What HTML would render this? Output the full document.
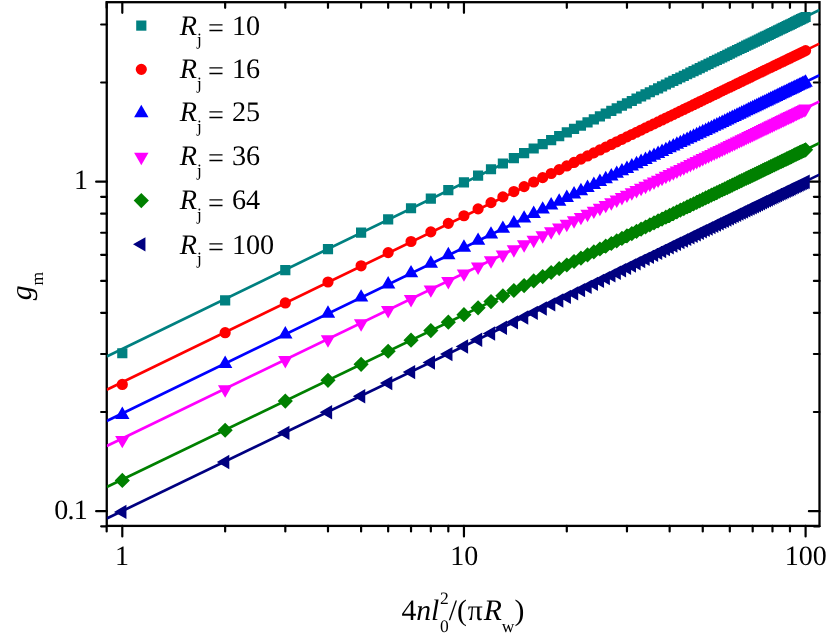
<!DOCTYPE html>
<html><head><meta charset="utf-8"><title>chart</title>
<style>
html,body{margin:0;padding:0;background:#fff;}
body{width:830px;height:639px;overflow:hidden;}
svg{display:block;will-change:transform;}
text{text-rendering:geometricPrecision;}
text{font-family:"Liberation Serif",serif;fill:#000;}
.i{font-style:italic;}
</style></head><body>
<svg width="830" height="639" viewBox="0 0 830 639">
<rect width="830" height="639" fill="#fff"/>
<defs><clipPath id="c"><rect x="106.75" y="2.2" width="712.75" height="523.7"/></clipPath></defs>

<path d="M106.67 525.9v5.6M106.67 2.2v5.6M122.3 525.9v10.6M122.3 2.2v10.6M225.15 525.9v5.6M225.15 2.2v5.6M285.31 525.9v5.6M285.31 2.2v5.6M327.99 525.9v5.6M327.99 2.2v5.6M361.1 525.9v5.6M361.1 2.2v5.6M388.16 525.9v5.6M388.16 2.2v5.6M411.03 525.9v5.6M411.03 2.2v5.6M430.84 525.9v5.6M430.84 2.2v5.6M448.32 525.9v5.6M448.32 2.2v5.6M463.95 525.9v10.6M463.95 2.2v10.6M566.8 525.9v5.6M566.8 2.2v5.6M626.96 525.9v5.6M626.96 2.2v5.6M669.64 525.9v5.6M669.64 2.2v5.6M702.75 525.9v5.6M702.75 2.2v5.6M729.81 525.9v5.6M729.81 2.2v5.6M752.68 525.9v5.6M752.68 2.2v5.6M772.49 525.9v5.6M772.49 2.2v5.6M789.97 525.9v5.6M789.97 2.2v5.6M805.6 525.9v10.6M805.6 2.2v10.6M106.75 526.28h-5.6M819.5 526.28h-5.6M106.75 511.2h-10.6M819.5 511.2h-10.6M106.75 412.01h-5.6M819.5 412.01h-5.6M106.75 353.99h-5.6M819.5 353.99h-5.6M106.75 312.82h-5.6M819.5 312.82h-5.6M106.75 280.89h-5.6M819.5 280.89h-5.6M106.75 254.8h-5.6M819.5 254.8h-5.6M106.75 232.74h-5.6M819.5 232.74h-5.6M106.75 213.63h-5.6M819.5 213.63h-5.6M106.75 196.78h-5.6M819.5 196.78h-5.6M106.75 181.7h-10.6M819.5 181.7h-10.6M106.75 82.51h-5.6M819.5 82.51h-5.6M106.75 24.49h-5.6M819.5 24.49h-5.6" stroke="#000" stroke-width="2.2" stroke-linecap="round" fill="none"/>
<rect x="106.75" y="2.2" width="712.75" height="523.7" fill="none" stroke="#000" stroke-width="2.3"/>
<g clip-path="url(#c)">
<path d="M106.75 356.5L819.5 10" stroke="#008080" stroke-width="2.7" fill="none"/>
<path d="M106.75 389.8L819.5 43.6" stroke="#ff0000" stroke-width="2.7" fill="none"/>
<path d="M106.75 421L819.5 75.2" stroke="#0000ff" stroke-width="2.7" fill="none"/>
<path d="M106.75 446L819.5 101.5" stroke="#ff00ff" stroke-width="2.7" fill="none"/>
<path d="M106.75 487L819.5 143" stroke="#008000" stroke-width="2.7" fill="none"/>
<path d="M106.75 518.5L819.5 174.6" stroke="#000080" stroke-width="2.7" fill="none"/>
</g>
<path d="M117.2 348.17h10.2v10.2h-10.2zM220.05 295.25h10.2v10.2h-10.2zM280.21 265.09h10.2v10.2h-10.2zM322.89 243.93h10.2v10.2h-10.2zM356 227.61h10.2v10.2h-10.2zM383.06 214.33h10.2v10.2h-10.2zM405.93 203.14h10.2v10.2h-10.2zM425.74 193.45h10.2v10.2h-10.2zM443.22 184.93h10.2v10.2h-10.2zM458.85 177.31h10.2v10.2h-10.2zM472.99 170.43h10.2v10.2h-10.2zM485.9 164.15h10.2v10.2h-10.2zM497.78 158.38h10.2v10.2h-10.2zM508.77 153.03h10.2v10.2h-10.2zM519.01 148.06h10.2v10.2h-10.2zM528.59 143.42h10.2v10.2h-10.2zM537.58 139.05h10.2v10.2h-10.2zM546.06 134.94h10.2v10.2h-10.2zM554.09 131.05h10.2v10.2h-10.2zM561.7 127.36h10.2v10.2h-10.2zM568.94 123.85h10.2v10.2h-10.2zM575.84 120.51h10.2v10.2h-10.2zM582.43 117.32h10.2v10.2h-10.2zM588.75 114.26h10.2v10.2h-10.2zM594.81 111.33h10.2v10.2h-10.2zM600.63 108.51h10.2v10.2h-10.2zM606.23 105.8h10.2v10.2h-10.2zM611.62 103.19h10.2v10.2h-10.2zM616.83 100.67h10.2v10.2h-10.2zM621.86 98.23h10.2v10.2h-10.2zM626.72 95.88h10.2v10.2h-10.2zM631.43 93.6h10.2v10.2h-10.2zM636 91.39h10.2v10.2h-10.2zM640.43 89.25h10.2v10.2h-10.2zM644.73 87.17h10.2v10.2h-10.2zM648.91 85.15h10.2v10.2h-10.2zM652.98 83.18h10.2v10.2h-10.2zM656.93 81.27h10.2v10.2h-10.2zM660.79 79.41h10.2v10.2h-10.2zM664.54 77.59h10.2v10.2h-10.2zM668.21 75.82h10.2v10.2h-10.2zM671.78 74.09h10.2v10.2h-10.2zM675.27 72.4h10.2v10.2h-10.2zM678.69 70.75h10.2v10.2h-10.2zM682.02 69.14h10.2v10.2h-10.2zM685.28 67.57h10.2v10.2h-10.2zM688.47 66.02h10.2v10.2h-10.2zM691.6 64.51h10.2v10.2h-10.2zM694.66 63.04h10.2v10.2h-10.2zM697.65 61.59h10.2v10.2h-10.2zM700.59 60.17h10.2v10.2h-10.2zM703.47 58.78h10.2v10.2h-10.2zM706.3 57.41h10.2v10.2h-10.2zM709.07 56.07h10.2v10.2h-10.2zM711.79 54.76h10.2v10.2h-10.2zM714.47 53.46h10.2v10.2h-10.2zM717.09 52.2h10.2v10.2h-10.2zM719.68 50.95h10.2v10.2h-10.2zM722.21 49.72h10.2v10.2h-10.2zM724.71 48.52h10.2v10.2h-10.2zM727.16 47.33h10.2v10.2h-10.2zM729.57 46.17h10.2v10.2h-10.2zM731.94 45.02h10.2v10.2h-10.2zM734.28 43.89h10.2v10.2h-10.2zM736.58 42.78h10.2v10.2h-10.2zM738.85 41.69h10.2v10.2h-10.2zM741.08 40.61h10.2v10.2h-10.2zM743.28 39.55h10.2v10.2h-10.2zM745.44 38.5h10.2v10.2h-10.2zM747.58 37.47h10.2v10.2h-10.2zM749.68 36.46h10.2v10.2h-10.2zM751.76 35.45h10.2v10.2h-10.2zM753.8 34.47h10.2v10.2h-10.2zM755.82 33.49h10.2v10.2h-10.2zM757.81 32.53h10.2v10.2h-10.2zM759.78 31.58h10.2v10.2h-10.2zM761.72 30.64h10.2v10.2h-10.2zM763.63 29.72h10.2v10.2h-10.2zM765.52 28.81h10.2v10.2h-10.2zM767.39 27.91h10.2v10.2h-10.2zM769.23 27.02h10.2v10.2h-10.2zM771.05 26.14h10.2v10.2h-10.2zM772.85 25.27h10.2v10.2h-10.2zM774.63 24.41h10.2v10.2h-10.2zM776.39 23.56h10.2v10.2h-10.2zM778.12 22.72h10.2v10.2h-10.2zM779.84 21.9h10.2v10.2h-10.2zM781.53 21.08h10.2v10.2h-10.2zM783.21 20.27h10.2v10.2h-10.2zM784.87 19.47h10.2v10.2h-10.2zM786.51 18.68h10.2v10.2h-10.2zM788.13 17.89h10.2v10.2h-10.2zM789.73 17.12h10.2v10.2h-10.2zM791.32 16.35h10.2v10.2h-10.2zM792.89 15.6h10.2v10.2h-10.2zM794.44 14.85h10.2v10.2h-10.2zM795.98 14.1h10.2v10.2h-10.2zM797.5 13.37h10.2v10.2h-10.2zM799.01 12.64h10.2v10.2h-10.2zM800.5 11.92h10.2v10.2h-10.2z" fill="#008080"/>
<path d="M116.7 384.42a5.6 5.6 0 1 0 11.2 0a5.6 5.6 0 1 0 -11.2 0zM219.55 332.69a5.6 5.6 0 1 0 11.2 0a5.6 5.6 0 1 0 -11.2 0zM279.71 302.95a5.6 5.6 0 1 0 11.2 0a5.6 5.6 0 1 0 -11.2 0zM322.39 282a5.6 5.6 0 1 0 11.2 0a5.6 5.6 0 1 0 -11.2 0zM355.5 265.81a5.6 5.6 0 1 0 11.2 0a5.6 5.6 0 1 0 -11.2 0zM382.56 252.62a5.6 5.6 0 1 0 11.2 0a5.6 5.6 0 1 0 -11.2 0zM405.43 241.48a5.6 5.6 0 1 0 11.2 0a5.6 5.6 0 1 0 -11.2 0zM425.24 231.85a5.6 5.6 0 1 0 11.2 0a5.6 5.6 0 1 0 -11.2 0zM442.72 223.36a5.6 5.6 0 1 0 11.2 0a5.6 5.6 0 1 0 -11.2 0zM458.35 215.77a5.6 5.6 0 1 0 11.2 0a5.6 5.6 0 1 0 -11.2 0zM472.49 208.91a5.6 5.6 0 1 0 11.2 0a5.6 5.6 0 1 0 -11.2 0zM485.4 202.66a5.6 5.6 0 1 0 11.2 0a5.6 5.6 0 1 0 -11.2 0zM497.28 196.9a5.6 5.6 0 1 0 11.2 0a5.6 5.6 0 1 0 -11.2 0zM508.27 191.57a5.6 5.6 0 1 0 11.2 0a5.6 5.6 0 1 0 -11.2 0zM518.51 186.62a5.6 5.6 0 1 0 11.2 0a5.6 5.6 0 1 0 -11.2 0zM528.09 181.98a5.6 5.6 0 1 0 11.2 0a5.6 5.6 0 1 0 -11.2 0zM537.08 177.62a5.6 5.6 0 1 0 11.2 0a5.6 5.6 0 1 0 -11.2 0zM545.56 173.52a5.6 5.6 0 1 0 11.2 0a5.6 5.6 0 1 0 -11.2 0zM553.59 169.64a5.6 5.6 0 1 0 11.2 0a5.6 5.6 0 1 0 -11.2 0zM561.2 165.96a5.6 5.6 0 1 0 11.2 0a5.6 5.6 0 1 0 -11.2 0zM568.44 162.46a5.6 5.6 0 1 0 11.2 0a5.6 5.6 0 1 0 -11.2 0zM575.34 159.12a5.6 5.6 0 1 0 11.2 0a5.6 5.6 0 1 0 -11.2 0zM581.93 155.93a5.6 5.6 0 1 0 11.2 0a5.6 5.6 0 1 0 -11.2 0zM588.25 152.88a5.6 5.6 0 1 0 11.2 0a5.6 5.6 0 1 0 -11.2 0zM594.31 149.95a5.6 5.6 0 1 0 11.2 0a5.6 5.6 0 1 0 -11.2 0zM600.13 147.13a5.6 5.6 0 1 0 11.2 0a5.6 5.6 0 1 0 -11.2 0zM605.73 144.43a5.6 5.6 0 1 0 11.2 0a5.6 5.6 0 1 0 -11.2 0zM611.12 141.82a5.6 5.6 0 1 0 11.2 0a5.6 5.6 0 1 0 -11.2 0zM616.33 139.3a5.6 5.6 0 1 0 11.2 0a5.6 5.6 0 1 0 -11.2 0zM621.36 136.87a5.6 5.6 0 1 0 11.2 0a5.6 5.6 0 1 0 -11.2 0zM626.22 134.52a5.6 5.6 0 1 0 11.2 0a5.6 5.6 0 1 0 -11.2 0zM630.93 132.24a5.6 5.6 0 1 0 11.2 0a5.6 5.6 0 1 0 -11.2 0zM635.5 130.04a5.6 5.6 0 1 0 11.2 0a5.6 5.6 0 1 0 -11.2 0zM639.93 127.9a5.6 5.6 0 1 0 11.2 0a5.6 5.6 0 1 0 -11.2 0zM644.23 125.82a5.6 5.6 0 1 0 11.2 0a5.6 5.6 0 1 0 -11.2 0zM648.41 123.8a5.6 5.6 0 1 0 11.2 0a5.6 5.6 0 1 0 -11.2 0zM652.48 121.84a5.6 5.6 0 1 0 11.2 0a5.6 5.6 0 1 0 -11.2 0zM656.43 119.93a5.6 5.6 0 1 0 11.2 0a5.6 5.6 0 1 0 -11.2 0zM660.29 118.07a5.6 5.6 0 1 0 11.2 0a5.6 5.6 0 1 0 -11.2 0zM664.04 116.25a5.6 5.6 0 1 0 11.2 0a5.6 5.6 0 1 0 -11.2 0zM667.71 114.48a5.6 5.6 0 1 0 11.2 0a5.6 5.6 0 1 0 -11.2 0zM671.28 112.75a5.6 5.6 0 1 0 11.2 0a5.6 5.6 0 1 0 -11.2 0zM674.77 111.07a5.6 5.6 0 1 0 11.2 0a5.6 5.6 0 1 0 -11.2 0zM678.19 109.42a5.6 5.6 0 1 0 11.2 0a5.6 5.6 0 1 0 -11.2 0zM681.52 107.81a5.6 5.6 0 1 0 11.2 0a5.6 5.6 0 1 0 -11.2 0zM684.78 106.24a5.6 5.6 0 1 0 11.2 0a5.6 5.6 0 1 0 -11.2 0zM687.97 104.7a5.6 5.6 0 1 0 11.2 0a5.6 5.6 0 1 0 -11.2 0zM691.1 103.19a5.6 5.6 0 1 0 11.2 0a5.6 5.6 0 1 0 -11.2 0zM694.16 101.71a5.6 5.6 0 1 0 11.2 0a5.6 5.6 0 1 0 -11.2 0zM697.15 100.26a5.6 5.6 0 1 0 11.2 0a5.6 5.6 0 1 0 -11.2 0zM700.09 98.84a5.6 5.6 0 1 0 11.2 0a5.6 5.6 0 1 0 -11.2 0zM702.97 97.45a5.6 5.6 0 1 0 11.2 0a5.6 5.6 0 1 0 -11.2 0zM705.8 96.09a5.6 5.6 0 1 0 11.2 0a5.6 5.6 0 1 0 -11.2 0zM708.57 94.75a5.6 5.6 0 1 0 11.2 0a5.6 5.6 0 1 0 -11.2 0zM711.29 93.44a5.6 5.6 0 1 0 11.2 0a5.6 5.6 0 1 0 -11.2 0zM713.97 92.14a5.6 5.6 0 1 0 11.2 0a5.6 5.6 0 1 0 -11.2 0zM716.59 90.88a5.6 5.6 0 1 0 11.2 0a5.6 5.6 0 1 0 -11.2 0zM719.18 89.63a5.6 5.6 0 1 0 11.2 0a5.6 5.6 0 1 0 -11.2 0zM721.71 88.41a5.6 5.6 0 1 0 11.2 0a5.6 5.6 0 1 0 -11.2 0zM724.21 87.2a5.6 5.6 0 1 0 11.2 0a5.6 5.6 0 1 0 -11.2 0zM726.66 86.02a5.6 5.6 0 1 0 11.2 0a5.6 5.6 0 1 0 -11.2 0zM729.07 84.85a5.6 5.6 0 1 0 11.2 0a5.6 5.6 0 1 0 -11.2 0zM731.44 83.71a5.6 5.6 0 1 0 11.2 0a5.6 5.6 0 1 0 -11.2 0zM733.78 82.58a5.6 5.6 0 1 0 11.2 0a5.6 5.6 0 1 0 -11.2 0zM736.08 81.47a5.6 5.6 0 1 0 11.2 0a5.6 5.6 0 1 0 -11.2 0zM738.35 80.38a5.6 5.6 0 1 0 11.2 0a5.6 5.6 0 1 0 -11.2 0zM740.58 79.3a5.6 5.6 0 1 0 11.2 0a5.6 5.6 0 1 0 -11.2 0zM742.78 78.24a5.6 5.6 0 1 0 11.2 0a5.6 5.6 0 1 0 -11.2 0zM744.94 77.19a5.6 5.6 0 1 0 11.2 0a5.6 5.6 0 1 0 -11.2 0zM747.08 76.16a5.6 5.6 0 1 0 11.2 0a5.6 5.6 0 1 0 -11.2 0zM749.18 75.15a5.6 5.6 0 1 0 11.2 0a5.6 5.6 0 1 0 -11.2 0zM751.26 74.15a5.6 5.6 0 1 0 11.2 0a5.6 5.6 0 1 0 -11.2 0zM753.3 73.16a5.6 5.6 0 1 0 11.2 0a5.6 5.6 0 1 0 -11.2 0zM755.32 72.18a5.6 5.6 0 1 0 11.2 0a5.6 5.6 0 1 0 -11.2 0zM757.31 71.22a5.6 5.6 0 1 0 11.2 0a5.6 5.6 0 1 0 -11.2 0zM759.28 70.27a5.6 5.6 0 1 0 11.2 0a5.6 5.6 0 1 0 -11.2 0zM761.22 69.34a5.6 5.6 0 1 0 11.2 0a5.6 5.6 0 1 0 -11.2 0zM763.13 68.41a5.6 5.6 0 1 0 11.2 0a5.6 5.6 0 1 0 -11.2 0zM765.02 67.5a5.6 5.6 0 1 0 11.2 0a5.6 5.6 0 1 0 -11.2 0zM766.89 66.6a5.6 5.6 0 1 0 11.2 0a5.6 5.6 0 1 0 -11.2 0zM768.73 65.71a5.6 5.6 0 1 0 11.2 0a5.6 5.6 0 1 0 -11.2 0zM770.55 64.83a5.6 5.6 0 1 0 11.2 0a5.6 5.6 0 1 0 -11.2 0zM772.35 63.96a5.6 5.6 0 1 0 11.2 0a5.6 5.6 0 1 0 -11.2 0zM774.13 63.11a5.6 5.6 0 1 0 11.2 0a5.6 5.6 0 1 0 -11.2 0zM775.89 62.26a5.6 5.6 0 1 0 11.2 0a5.6 5.6 0 1 0 -11.2 0zM777.62 61.42a5.6 5.6 0 1 0 11.2 0a5.6 5.6 0 1 0 -11.2 0zM779.34 60.59a5.6 5.6 0 1 0 11.2 0a5.6 5.6 0 1 0 -11.2 0zM781.03 59.78a5.6 5.6 0 1 0 11.2 0a5.6 5.6 0 1 0 -11.2 0zM782.71 58.97a5.6 5.6 0 1 0 11.2 0a5.6 5.6 0 1 0 -11.2 0zM784.37 58.17a5.6 5.6 0 1 0 11.2 0a5.6 5.6 0 1 0 -11.2 0zM786.01 57.38a5.6 5.6 0 1 0 11.2 0a5.6 5.6 0 1 0 -11.2 0zM787.63 56.59a5.6 5.6 0 1 0 11.2 0a5.6 5.6 0 1 0 -11.2 0zM789.23 55.82a5.6 5.6 0 1 0 11.2 0a5.6 5.6 0 1 0 -11.2 0zM790.82 55.05a5.6 5.6 0 1 0 11.2 0a5.6 5.6 0 1 0 -11.2 0zM792.39 54.3a5.6 5.6 0 1 0 11.2 0a5.6 5.6 0 1 0 -11.2 0zM793.94 53.55a5.6 5.6 0 1 0 11.2 0a5.6 5.6 0 1 0 -11.2 0zM795.48 52.8a5.6 5.6 0 1 0 11.2 0a5.6 5.6 0 1 0 -11.2 0zM797 52.07a5.6 5.6 0 1 0 11.2 0a5.6 5.6 0 1 0 -11.2 0zM798.51 51.34a5.6 5.6 0 1 0 11.2 0a5.6 5.6 0 1 0 -11.2 0zM800 50.62a5.6 5.6 0 1 0 11.2 0a5.6 5.6 0 1 0 -11.2 0z" fill="#ff0000"/>
<path d="M122.3 406.52l7.19 12.45h-14.38zM225.15 355.53l7.19 12.45h-14.38zM285.31 326.05l7.19 12.45h-14.38zM327.99 305.23l7.19 12.45h-14.38zM361.1 289.13l7.19 12.45h-14.38zM388.16 275.99l7.19 12.45h-14.38zM411.03 264.89l7.19 12.45h-14.38zM430.84 255.28l7.19 12.45h-14.38zM448.32 246.82l7.19 12.45h-14.38zM463.95 239.25l7.19 12.45h-14.38zM478.09 232.4l7.19 12.45h-14.38zM491 226.15l7.19 12.45h-14.38zM502.88 220.41l7.19 12.45h-14.38zM513.87 215.09l7.19 12.45h-14.38zM524.11 210.14l7.19 12.45h-14.38zM533.69 205.51l7.19 12.45h-14.38zM542.68 201.16l7.19 12.45h-14.38zM551.16 197.06l7.19 12.45h-14.38zM559.19 193.19l7.19 12.45h-14.38zM566.8 189.51l7.19 12.45h-14.38zM574.04 186.01l7.19 12.45h-14.38zM580.94 182.68l7.19 12.45h-14.38zM587.53 179.49l7.19 12.45h-14.38zM593.85 176.44l7.19 12.45h-14.38zM599.91 173.51l7.19 12.45h-14.38zM605.73 170.7l7.19 12.45h-14.38zM611.33 168l7.19 12.45h-14.38zM616.72 165.39l7.19 12.45h-14.38zM621.93 162.88l7.19 12.45h-14.38zM626.96 160.45l7.19 12.45h-14.38zM631.82 158.1l7.19 12.45h-14.38zM636.53 155.83l7.19 12.45h-14.38zM641.1 153.62l7.19 12.45h-14.38zM645.53 151.48l7.19 12.45h-14.38zM649.83 149.41l7.19 12.45h-14.38zM654.01 147.39l7.19 12.45h-14.38zM658.08 145.43l7.19 12.45h-14.38zM662.03 143.52l7.19 12.45h-14.38zM665.89 141.66l7.19 12.45h-14.38zM669.64 139.84l7.19 12.45h-14.38zM673.31 138.07l7.19 12.45h-14.38zM676.88 136.35l7.19 12.45h-14.38zM680.37 134.66l7.19 12.45h-14.38zM683.79 133.02l7.19 12.45h-14.38zM687.12 131.41l7.19 12.45h-14.38zM690.38 129.83l7.19 12.45h-14.38zM693.57 128.29l7.19 12.45h-14.38zM696.7 126.79l7.19 12.45h-14.38zM699.76 125.31l7.19 12.45h-14.38zM702.75 123.86l7.19 12.45h-14.38zM705.69 122.44l7.19 12.45h-14.38zM708.57 121.05l7.19 12.45h-14.38zM711.4 119.69l7.19 12.45h-14.38zM714.17 118.35l7.19 12.45h-14.38zM716.89 117.04l7.19 12.45h-14.38zM719.57 115.75l7.19 12.45h-14.38zM722.19 114.48l7.19 12.45h-14.38zM724.78 113.24l7.19 12.45h-14.38zM727.31 112.01l7.19 12.45h-14.38zM729.81 110.81l7.19 12.45h-14.38zM732.26 109.62l7.19 12.45h-14.38zM734.67 108.46l7.19 12.45h-14.38zM737.04 107.31l7.19 12.45h-14.38zM739.38 106.19l7.19 12.45h-14.38zM741.68 105.08l7.19 12.45h-14.38zM743.95 103.98l7.19 12.45h-14.38zM746.18 102.91l7.19 12.45h-14.38zM748.38 101.85l7.19 12.45h-14.38zM750.54 100.8l7.19 12.45h-14.38zM752.68 99.77l7.19 12.45h-14.38zM754.78 98.76l7.19 12.45h-14.38zM756.86 97.75l7.19 12.45h-14.38zM758.9 96.77l7.19 12.45h-14.38zM760.92 95.79l7.19 12.45h-14.38zM762.91 94.83l7.19 12.45h-14.38zM764.88 93.88l7.19 12.45h-14.38zM766.82 92.95l7.19 12.45h-14.38zM768.73 92.02l7.19 12.45h-14.38zM770.62 91.11l7.19 12.45h-14.38zM772.49 90.21l7.19 12.45h-14.38zM774.33 89.32l7.19 12.45h-14.38zM776.15 88.44l7.19 12.45h-14.38zM777.95 87.58l7.19 12.45h-14.38zM779.73 86.72l7.19 12.45h-14.38zM781.49 85.87l7.19 12.45h-14.38zM783.22 85.04l7.19 12.45h-14.38zM784.94 84.21l7.19 12.45h-14.38zM786.63 83.39l7.19 12.45h-14.38zM788.31 82.58l7.19 12.45h-14.38zM789.97 81.78l7.19 12.45h-14.38zM791.61 80.99l7.19 12.45h-14.38zM793.23 80.21l7.19 12.45h-14.38zM794.83 79.43l7.19 12.45h-14.38zM796.42 78.67l7.19 12.45h-14.38zM797.99 77.91l7.19 12.45h-14.38zM799.54 77.16l7.19 12.45h-14.38zM801.08 76.42l7.19 12.45h-14.38zM802.6 75.69l7.19 12.45h-14.38zM804.11 74.96l7.19 12.45h-14.38zM805.6 74.24l7.19 12.45h-14.38z" fill="#0000ff"/>
<path d="M122.3 448.36l7.19 -12.45h-14.38zM225.15 397.79l7.19 -12.45h-14.38zM285.31 368.45l7.19 -12.45h-14.38zM327.99 347.71l7.19 -12.45h-14.38zM361.1 331.64l7.19 -12.45h-14.38zM388.16 318.53l7.19 -12.45h-14.38zM411.03 307.45l7.19 -12.45h-14.38zM430.84 297.86l7.19 -12.45h-14.38zM448.32 289.41l7.19 -12.45h-14.38zM463.95 281.85l7.19 -12.45h-14.38zM478.09 275.01l7.19 -12.45h-14.38zM491 268.77l7.19 -12.45h-14.38zM502.88 263.03l7.19 -12.45h-14.38zM513.87 257.72l7.19 -12.45h-14.38zM524.11 252.77l7.19 -12.45h-14.38zM533.69 248.15l7.19 -12.45h-14.38zM542.68 243.8l7.19 -12.45h-14.38zM551.16 239.71l7.19 -12.45h-14.38zM559.19 235.83l7.19 -12.45h-14.38zM566.8 232.16l7.19 -12.45h-14.38zM574.04 228.66l7.19 -12.45h-14.38zM580.94 225.33l7.19 -12.45h-14.38zM587.53 222.14l7.19 -12.45h-14.38zM593.85 219.09l7.19 -12.45h-14.38zM599.91 216.17l7.19 -12.45h-14.38zM605.73 213.36l7.19 -12.45h-14.38zM611.33 210.66l7.19 -12.45h-14.38zM616.72 208.05l7.19 -12.45h-14.38zM621.93 205.54l7.19 -12.45h-14.38zM626.96 203.11l7.19 -12.45h-14.38zM631.82 200.76l7.19 -12.45h-14.38zM636.53 198.49l7.19 -12.45h-14.38zM641.1 196.29l7.19 -12.45h-14.38zM645.53 194.15l7.19 -12.45h-14.38zM649.83 192.07l7.19 -12.45h-14.38zM654.01 190.06l7.19 -12.45h-14.38zM658.08 188.09l7.19 -12.45h-14.38zM662.03 186.18l7.19 -12.45h-14.38zM665.89 184.32l7.19 -12.45h-14.38zM669.64 182.51l7.19 -12.45h-14.38zM673.31 180.74l7.19 -12.45h-14.38zM676.88 179.02l7.19 -12.45h-14.38zM680.37 177.33l7.19 -12.45h-14.38zM683.79 175.69l7.19 -12.45h-14.38zM687.12 174.08l7.19 -12.45h-14.38zM690.38 172.5l7.19 -12.45h-14.38zM693.57 170.96l7.19 -12.45h-14.38zM696.7 169.46l7.19 -12.45h-14.38zM699.76 167.98l7.19 -12.45h-14.38zM702.75 166.54l7.19 -12.45h-14.38zM705.69 165.12l7.19 -12.45h-14.38zM708.57 163.73l7.19 -12.45h-14.38zM711.4 162.36l7.19 -12.45h-14.38zM714.17 161.03l7.19 -12.45h-14.38zM716.89 159.71l7.19 -12.45h-14.38zM719.57 158.42l7.19 -12.45h-14.38zM722.19 157.16l7.19 -12.45h-14.38zM724.78 155.91l7.19 -12.45h-14.38zM727.31 154.69l7.19 -12.45h-14.38zM729.81 153.48l7.19 -12.45h-14.38zM732.26 152.3l7.19 -12.45h-14.38zM734.67 151.14l7.19 -12.45h-14.38zM737.04 149.99l7.19 -12.45h-14.38zM739.38 148.86l7.19 -12.45h-14.38zM741.68 147.75l7.19 -12.45h-14.38zM743.95 146.66l7.19 -12.45h-14.38zM746.18 145.58l7.19 -12.45h-14.38zM748.38 144.52l7.19 -12.45h-14.38zM750.54 143.48l7.19 -12.45h-14.38zM752.68 142.45l7.19 -12.45h-14.38zM754.78 141.43l7.19 -12.45h-14.38zM756.86 140.43l7.19 -12.45h-14.38zM758.9 139.45l7.19 -12.45h-14.38zM760.92 138.47l7.19 -12.45h-14.38zM762.91 137.51l7.19 -12.45h-14.38zM764.88 136.56l7.19 -12.45h-14.38zM766.82 135.63l7.19 -12.45h-14.38zM768.73 134.7l7.19 -12.45h-14.38zM770.62 133.79l7.19 -12.45h-14.38zM772.49 132.89l7.19 -12.45h-14.38zM774.33 132l7.19 -12.45h-14.38zM776.15 131.12l7.19 -12.45h-14.38zM777.95 130.26l7.19 -12.45h-14.38zM779.73 129.4l7.19 -12.45h-14.38zM781.49 128.55l7.19 -12.45h-14.38zM783.22 127.72l7.19 -12.45h-14.38zM784.94 126.89l7.19 -12.45h-14.38zM786.63 126.07l7.19 -12.45h-14.38zM788.31 125.26l7.19 -12.45h-14.38zM789.97 124.46l7.19 -12.45h-14.38zM791.61 123.67l7.19 -12.45h-14.38zM793.23 122.89l7.19 -12.45h-14.38zM794.83 122.11l7.19 -12.45h-14.38zM796.42 121.35l7.19 -12.45h-14.38zM797.99 120.59l7.19 -12.45h-14.38zM799.54 119.84l7.19 -12.45h-14.38zM801.08 119.1l7.19 -12.45h-14.38zM802.6 118.37l7.19 -12.45h-14.38zM804.11 117.64l7.19 -12.45h-14.38zM805.6 116.92l7.19 -12.45h-14.38z" fill="#ff00ff"/>
<path d="M122.3 472.78l7.6 7.6l-7.6 7.6l-7.6 -7.6zM225.15 422.63l7.6 7.6l-7.6 7.6l-7.6 -7.6zM285.31 393.43l7.6 7.6l-7.6 7.6l-7.6 -7.6zM327.99 372.76l7.6 7.6l-7.6 7.6l-7.6 -7.6zM361.1 356.74l7.6 7.6l-7.6 7.6l-7.6 -7.6zM388.16 343.65l7.6 7.6l-7.6 7.6l-7.6 -7.6zM411.03 332.6l7.6 7.6l-7.6 7.6l-7.6 -7.6zM430.84 323.02l7.6 7.6l-7.6 7.6l-7.6 -7.6zM448.32 314.58l7.6 7.6l-7.6 7.6l-7.6 -7.6zM463.95 307.03l7.6 7.6l-7.6 7.6l-7.6 -7.6zM478.09 300.2l7.6 7.6l-7.6 7.6l-7.6 -7.6zM491 293.97l7.6 7.6l-7.6 7.6l-7.6 -7.6zM502.88 288.23l7.6 7.6l-7.6 7.6l-7.6 -7.6zM513.87 282.92l7.6 7.6l-7.6 7.6l-7.6 -7.6zM524.11 277.98l7.6 7.6l-7.6 7.6l-7.6 -7.6zM533.69 273.36l7.6 7.6l-7.6 7.6l-7.6 -7.6zM542.68 269.02l7.6 7.6l-7.6 7.6l-7.6 -7.6zM551.16 264.92l7.6 7.6l-7.6 7.6l-7.6 -7.6zM559.19 261.05l7.6 7.6l-7.6 7.6l-7.6 -7.6zM566.8 257.38l7.6 7.6l-7.6 7.6l-7.6 -7.6zM574.04 253.89l7.6 7.6l-7.6 7.6l-7.6 -7.6zM580.94 250.55l7.6 7.6l-7.6 7.6l-7.6 -7.6zM587.53 247.37l7.6 7.6l-7.6 7.6l-7.6 -7.6zM593.85 244.32l7.6 7.6l-7.6 7.6l-7.6 -7.6zM599.91 241.4l7.6 7.6l-7.6 7.6l-7.6 -7.6zM605.73 238.59l7.6 7.6l-7.6 7.6l-7.6 -7.6zM611.33 235.89l7.6 7.6l-7.6 7.6l-7.6 -7.6zM616.72 233.29l7.6 7.6l-7.6 7.6l-7.6 -7.6zM621.93 230.78l7.6 7.6l-7.6 7.6l-7.6 -7.6zM626.96 228.35l7.6 7.6l-7.6 7.6l-7.6 -7.6zM631.82 226l7.6 7.6l-7.6 7.6l-7.6 -7.6zM636.53 223.73l7.6 7.6l-7.6 7.6l-7.6 -7.6zM641.1 221.53l7.6 7.6l-7.6 7.6l-7.6 -7.6zM645.53 219.39l7.6 7.6l-7.6 7.6l-7.6 -7.6zM649.83 217.31l7.6 7.6l-7.6 7.6l-7.6 -7.6zM654.01 215.3l7.6 7.6l-7.6 7.6l-7.6 -7.6zM658.08 213.34l7.6 7.6l-7.6 7.6l-7.6 -7.6zM662.03 211.43l7.6 7.6l-7.6 7.6l-7.6 -7.6zM665.89 209.57l7.6 7.6l-7.6 7.6l-7.6 -7.6zM669.64 207.76l7.6 7.6l-7.6 7.6l-7.6 -7.6zM673.31 205.99l7.6 7.6l-7.6 7.6l-7.6 -7.6zM676.88 204.26l7.6 7.6l-7.6 7.6l-7.6 -7.6zM680.37 202.58l7.6 7.6l-7.6 7.6l-7.6 -7.6zM683.79 200.93l7.6 7.6l-7.6 7.6l-7.6 -7.6zM687.12 199.33l7.6 7.6l-7.6 7.6l-7.6 -7.6zM690.38 197.75l7.6 7.6l-7.6 7.6l-7.6 -7.6zM693.57 196.21l7.6 7.6l-7.6 7.6l-7.6 -7.6zM696.7 194.71l7.6 7.6l-7.6 7.6l-7.6 -7.6zM699.76 193.23l7.6 7.6l-7.6 7.6l-7.6 -7.6zM702.75 191.79l7.6 7.6l-7.6 7.6l-7.6 -7.6zM705.69 190.37l7.6 7.6l-7.6 7.6l-7.6 -7.6zM708.57 188.98l7.6 7.6l-7.6 7.6l-7.6 -7.6zM711.4 187.61l7.6 7.6l-7.6 7.6l-7.6 -7.6zM714.17 186.28l7.6 7.6l-7.6 7.6l-7.6 -7.6zM716.89 184.96l7.6 7.6l-7.6 7.6l-7.6 -7.6zM719.57 183.67l7.6 7.6l-7.6 7.6l-7.6 -7.6zM722.19 182.41l7.6 7.6l-7.6 7.6l-7.6 -7.6zM724.78 181.16l7.6 7.6l-7.6 7.6l-7.6 -7.6zM727.31 179.94l7.6 7.6l-7.6 7.6l-7.6 -7.6zM729.81 178.74l7.6 7.6l-7.6 7.6l-7.6 -7.6zM732.26 177.55l7.6 7.6l-7.6 7.6l-7.6 -7.6zM734.67 176.39l7.6 7.6l-7.6 7.6l-7.6 -7.6zM737.04 175.24l7.6 7.6l-7.6 7.6l-7.6 -7.6zM739.38 174.12l7.6 7.6l-7.6 7.6l-7.6 -7.6zM741.68 173.01l7.6 7.6l-7.6 7.6l-7.6 -7.6zM743.95 171.92l7.6 7.6l-7.6 7.6l-7.6 -7.6zM746.18 170.84l7.6 7.6l-7.6 7.6l-7.6 -7.6zM748.38 169.78l7.6 7.6l-7.6 7.6l-7.6 -7.6zM750.54 168.73l7.6 7.6l-7.6 7.6l-7.6 -7.6zM752.68 167.7l7.6 7.6l-7.6 7.6l-7.6 -7.6zM754.78 166.69l7.6 7.6l-7.6 7.6l-7.6 -7.6zM756.86 165.69l7.6 7.6l-7.6 7.6l-7.6 -7.6zM758.9 164.7l7.6 7.6l-7.6 7.6l-7.6 -7.6zM760.92 163.73l7.6 7.6l-7.6 7.6l-7.6 -7.6zM762.91 162.77l7.6 7.6l-7.6 7.6l-7.6 -7.6zM764.88 161.82l7.6 7.6l-7.6 7.6l-7.6 -7.6zM766.82 160.88l7.6 7.6l-7.6 7.6l-7.6 -7.6zM768.73 159.96l7.6 7.6l-7.6 7.6l-7.6 -7.6zM770.62 159.05l7.6 7.6l-7.6 7.6l-7.6 -7.6zM772.49 158.15l7.6 7.6l-7.6 7.6l-7.6 -7.6zM774.33 157.26l7.6 7.6l-7.6 7.6l-7.6 -7.6zM776.15 156.38l7.6 7.6l-7.6 7.6l-7.6 -7.6zM777.95 155.51l7.6 7.6l-7.6 7.6l-7.6 -7.6zM779.73 154.66l7.6 7.6l-7.6 7.6l-7.6 -7.6zM781.49 153.81l7.6 7.6l-7.6 7.6l-7.6 -7.6zM783.22 152.97l7.6 7.6l-7.6 7.6l-7.6 -7.6zM784.94 152.15l7.6 7.6l-7.6 7.6l-7.6 -7.6zM786.63 151.33l7.6 7.6l-7.6 7.6l-7.6 -7.6zM788.31 150.52l7.6 7.6l-7.6 7.6l-7.6 -7.6zM789.97 149.72l7.6 7.6l-7.6 7.6l-7.6 -7.6zM791.61 148.93l7.6 7.6l-7.6 7.6l-7.6 -7.6zM793.23 148.15l7.6 7.6l-7.6 7.6l-7.6 -7.6zM794.83 147.37l7.6 7.6l-7.6 7.6l-7.6 -7.6zM796.42 146.61l7.6 7.6l-7.6 7.6l-7.6 -7.6zM797.99 145.85l7.6 7.6l-7.6 7.6l-7.6 -7.6zM799.54 145.1l7.6 7.6l-7.6 7.6l-7.6 -7.6zM801.08 144.36l7.6 7.6l-7.6 7.6l-7.6 -7.6zM802.6 143.63l7.6 7.6l-7.6 7.6l-7.6 -7.6zM804.11 142.9l7.6 7.6l-7.6 7.6l-7.6 -7.6zM805.6 142.18l7.6 7.6l-7.6 7.6l-7.6 -7.6z" fill="#008000"/>
<path d="M114 511.91l12.45 7.19v-14.38zM216.85 461.96l12.45 7.19v-14.38zM277.01 432.83l12.45 7.19v-14.38zM319.69 412.19l12.45 7.19v-14.38zM352.8 396.19l12.45 7.19v-14.38zM379.86 383.12l12.45 7.19v-14.38zM402.73 372.07l12.45 7.19v-14.38zM422.54 362.51l12.45 7.19v-14.38zM440.02 354.07l12.45 7.19v-14.38zM455.65 346.52l12.45 7.19v-14.38zM469.79 339.7l12.45 7.19v-14.38zM482.7 333.46l12.45 7.19v-14.38zM494.58 327.73l12.45 7.19v-14.38zM505.57 322.43l12.45 7.19v-14.38zM515.81 317.49l12.45 7.19v-14.38zM525.39 312.87l12.45 7.19v-14.38zM534.38 308.53l12.45 7.19v-14.38zM542.86 304.43l12.45 7.19v-14.38zM550.89 300.56l12.45 7.19v-14.38zM558.5 296.89l12.45 7.19v-14.38zM565.74 293.4l12.45 7.19v-14.38zM572.64 290.07l12.45 7.19v-14.38zM579.23 286.89l12.45 7.19v-14.38zM585.55 283.84l12.45 7.19v-14.38zM591.61 280.92l12.45 7.19v-14.38zM597.43 278.11l12.45 7.19v-14.38zM603.03 275.41l12.45 7.19v-14.38zM608.42 272.81l12.45 7.19v-14.38zM613.63 270.29l12.45 7.19v-14.38zM618.66 267.87l12.45 7.19v-14.38zM623.52 265.52l12.45 7.19v-14.38zM628.23 263.25l12.45 7.19v-14.38zM632.8 261.05l12.45 7.19v-14.38zM637.23 258.91l12.45 7.19v-14.38zM641.53 256.84l12.45 7.19v-14.38zM645.71 254.82l12.45 7.19v-14.38zM649.78 252.86l12.45 7.19v-14.38zM653.73 250.95l12.45 7.19v-14.38zM657.59 249.09l12.45 7.19v-14.38zM661.34 247.28l12.45 7.19v-14.38zM665.01 245.51l12.45 7.19v-14.38zM668.58 243.79l12.45 7.19v-14.38zM672.07 242.1l12.45 7.19v-14.38zM675.49 240.46l12.45 7.19v-14.38zM678.82 238.85l12.45 7.19v-14.38zM682.08 237.28l12.45 7.19v-14.38zM685.27 235.74l12.45 7.19v-14.38zM688.4 234.23l12.45 7.19v-14.38zM691.46 232.75l12.45 7.19v-14.38zM694.45 231.31l12.45 7.19v-14.38zM697.39 229.89l12.45 7.19v-14.38zM700.27 228.5l12.45 7.19v-14.38zM703.1 227.14l12.45 7.19v-14.38zM705.87 225.8l12.45 7.19v-14.38zM708.59 224.49l12.45 7.19v-14.38zM711.27 223.2l12.45 7.19v-14.38zM713.89 221.93l12.45 7.19v-14.38zM716.48 220.69l12.45 7.19v-14.38zM719.01 219.46l12.45 7.19v-14.38zM721.51 218.26l12.45 7.19v-14.38zM723.96 217.08l12.45 7.19v-14.38zM726.37 215.92l12.45 7.19v-14.38zM728.74 214.77l12.45 7.19v-14.38zM731.08 213.64l12.45 7.19v-14.38zM733.38 212.53l12.45 7.19v-14.38zM735.65 211.44l12.45 7.19v-14.38zM737.88 210.36l12.45 7.19v-14.38zM740.08 209.3l12.45 7.19v-14.38zM742.24 208.26l12.45 7.19v-14.38zM744.38 207.23l12.45 7.19v-14.38zM746.48 206.22l12.45 7.19v-14.38zM748.56 205.21l12.45 7.19v-14.38zM750.6 204.23l12.45 7.19v-14.38zM752.62 203.25l12.45 7.19v-14.38zM754.61 202.29l12.45 7.19v-14.38zM756.58 201.35l12.45 7.19v-14.38zM758.52 200.41l12.45 7.19v-14.38zM760.43 199.49l12.45 7.19v-14.38zM762.32 198.57l12.45 7.19v-14.38zM764.19 197.67l12.45 7.19v-14.38zM766.03 196.79l12.45 7.19v-14.38zM767.85 195.91l12.45 7.19v-14.38zM769.65 195.04l12.45 7.19v-14.38zM771.43 194.18l12.45 7.19v-14.38zM773.19 193.34l12.45 7.19v-14.38zM774.92 192.5l12.45 7.19v-14.38zM776.64 191.67l12.45 7.19v-14.38zM778.33 190.85l12.45 7.19v-14.38zM780.01 190.05l12.45 7.19v-14.38zM781.67 189.25l12.45 7.19v-14.38zM783.31 188.46l12.45 7.19v-14.38zM784.93 187.67l12.45 7.19v-14.38zM786.53 186.9l12.45 7.19v-14.38zM788.12 186.13l12.45 7.19v-14.38zM789.69 185.38l12.45 7.19v-14.38zM791.24 184.63l12.45 7.19v-14.38zM792.78 183.89l12.45 7.19v-14.38zM794.3 183.15l12.45 7.19v-14.38zM795.81 182.43l12.45 7.19v-14.38zM797.3 181.71l12.45 7.19v-14.38z" fill="#000080"/>
<g font-size="28">
<text x="88.1" y="189" text-anchor="end">1</text>
<text x="87.1" y="518.8" text-anchor="end" letter-spacing="-0.7">0.1</text>
<text x="121.9" y="564.6" text-anchor="middle">1</text>
<text x="464.15" y="564.6" text-anchor="middle">10</text>
<text x="805.8" y="564.6" text-anchor="middle">100</text>
</g>
<path d="M136.2 20.5h10.2v10.2h-10.2z" fill="#008080"/>
<text x="179.85" y="34.7" font-size="28.2"><tspan class="i">R</tspan><tspan font-size="17.3" dy="10.7">j</tspan><tspan dy="-8.6" dx="6">=</tspan><tspan dy="-2.1" dx="8.1">10</tspan></text>
<path d="M135.7 69.35a5.6 5.6 0 1 0 11.2 0a5.6 5.6 0 1 0 -11.2 0z" fill="#ff0000"/>
<text x="179.85" y="78" font-size="28.2"><tspan class="i">R</tspan><tspan font-size="17.3" dy="10.7">j</tspan><tspan dy="-8.6" dx="6">=</tspan><tspan dy="-2.1" dx="8.1">16</tspan></text>
<path d="M141.3 104.8l7.19 12.45h-14.38z" fill="#0000ff"/>
<text x="179.85" y="121.4" font-size="28.2"><tspan class="i">R</tspan><tspan font-size="17.3" dy="10.7">j</tspan><tspan dy="-8.6" dx="6">=</tspan><tspan dy="-2.1" dx="8.1">25</tspan></text>
<path d="M141.3 165.15l7.19 -12.45h-14.38z" fill="#ff00ff"/>
<text x="179.85" y="165.2" font-size="28.2"><tspan class="i">R</tspan><tspan font-size="17.3" dy="10.7">j</tspan><tspan dy="-8.6" dx="6">=</tspan><tspan dy="-2.1" dx="8.1">36</tspan></text>
<path d="M141.3 193l7.6 7.6l-7.6 7.6l-7.6 -7.6z" fill="#008000"/>
<text x="179.85" y="209.4" font-size="28.2"><tspan class="i">R</tspan><tspan font-size="17.3" dy="10.7">j</tspan><tspan dy="-8.6" dx="6">=</tspan><tspan dy="-2.1" dx="8.1">64</tspan></text>
<path d="M133 244.35l12.45 7.19v-14.38z" fill="#000080"/>
<text x="179.85" y="253.6" font-size="28.2"><tspan class="i">R</tspan><tspan font-size="17.3" dy="10.7">j</tspan><tspan dy="-8.6" dx="6">=</tspan><tspan dy="-2.1" dx="8.1">100</tspan></text>
<text font-size="29.7" transform="translate(30.7,300.3) rotate(-90)"><tspan class="i">g</tspan><tspan font-size="17.5" dy="12.6">m</tspan></text>
<text font-size="29.7" x="401.4" y="619.8">4<tspan class="i">nl</tspan></text>
<text font-size="17.5" x="439.9" y="603.5">2</text>
<text font-size="17.5" x="440" y="632.4">0</text>
<text font-size="29.7" x="448.7" y="619.8">/(<tspan dx="0.8">π</tspan></text>
<text font-size="29.7" x="483.7" y="619.8"><tspan class="i">R</tspan><tspan font-size="17.5" dy="12.5">w</tspan><tspan dy="-12.5">)</tspan></text>
</svg></body></html>
